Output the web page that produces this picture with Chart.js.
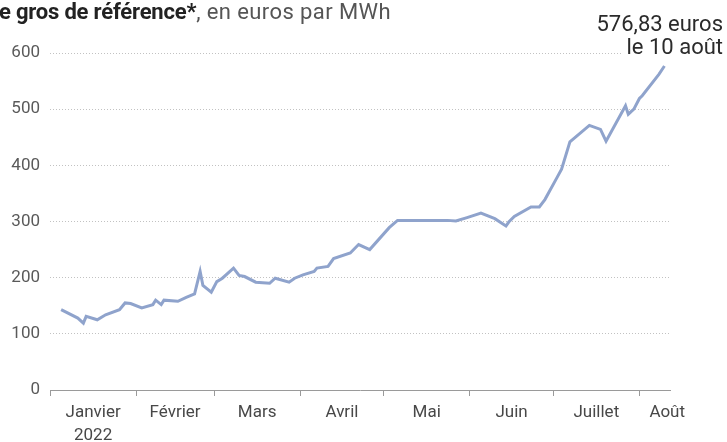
<!DOCTYPE html>
<html><head><meta charset="utf-8">
<script src="https://cdn.jsdelivr.net/npm/chart.js@4"></script>
<style>
html,body{margin:0;padding:0;background:#fff;}
#wrap{position:relative;width:727px;height:442px;overflow:hidden;}
#c{position:absolute;left:0;top:0;}
#title{position:absolute;left:-1px;top:1px;font-family:Roboto,sans-serif;line-height:22px;white-space:nowrap;}
#title b{color:#222;font-weight:700;font-size:22px;letter-spacing:-0.2px}
#title span{color:#555;font-weight:400;font-size:22px;letter-spacing:0.4px}
</style></head><body>
<div id="wrap"><canvas id="c" width="727" height="442" style="width:727px;height:442px"></canvas>
<div id="title"><b>e gros de référence*</b><span>, en euros par MWh</span></div></div>
<script>
const dates = ["2022-01-05","2022-01-11","2022-01-13","2022-01-14","2022-01-18","2022-01-21","2022-01-26","2022-01-28","2022-01-30",
"2022-02-03","2022-02-07","2022-02-08","2022-02-10","2022-02-11","2022-02-16","2022-02-19","2022-02-22","2022-02-24","2022-02-25","2022-02-28",
"2022-03-02","2022-03-04","2022-03-08","2022-03-10","2022-03-12","2022-03-16","2022-03-21","2022-03-23","2022-03-28","2022-03-30",
"2022-04-02","2022-04-06","2022-04-07","2022-04-11","2022-04-13","2022-04-19","2022-04-22","2022-04-26",
"2022-05-03","2022-05-06","2022-05-14","2022-05-24","2022-05-27","2022-05-31",
"2022-06-05","2022-06-10","2022-06-14","2022-06-15","2022-06-17","2022-06-23","2022-06-26","2022-06-28",
"2022-07-02","2022-07-04","2022-07-07","2022-07-14","2022-07-18","2022-07-20","2022-07-27","2022-07-28","2022-07-30",
"2022-08-01","2022-08-02","2022-08-08","2022-08-10"];
const prices = [143,128,119,131,125,134,143,155,154,
146,152,160,152,160,158,165,171,211,186,174,
193,199,217,204,202,192,190,199,192,199,
205,211,217,220,234,244,259,250,
289,302,302,302,301,307,
315,305,292,299,309,326,326,339,
375,393,442,471,464,443,506,491,500,
519,524,562,576.83];
const monthStarts = ["2022-01-01","2022-02-01","2022-03-01","2022-04-01","2022-05-01","2022-06-01","2022-07-01","2022-08-01","2022-09-01"];
const monthLabels = [["Janvier","2022"],"Février","Mars","Avril","Mai","Juin","Juillet","Août"];
const yTicks = [0,100,200,300,400,500,600];
const annotationLines = ["576,83 euros","le 10 août"];

const dayOf = s => { const [y,m,d] = s.split('-').map(Number); return (Date.UTC(y,m-1,d) - Date.UTC(2022,0,1)) / 86400000; };
const xs = dates.map(dayOf);
const lastDay = xs[xs.length-1];
const starts = monthStarts.map(dayOf);
const FONT = 'Roboto, sans-serif';

const annotationPlugin = {
  id: 'lastLabel',
  afterDatasetsDraw(chart) {
    const meta = chart.getDatasetMeta(0);
    const pt = meta.data[meta.data.length-1];
    const ctx = chart.ctx;
    ctx.save();
    ctx.font = '22px ' + FONT;
    ctx.textAlign = 'right';
    ctx.textBaseline = 'alphabetic';
    const xr = chart.width - 4;
    const b2 = pt.y - 12, b1 = b2 - 23;
    [b1, b2].forEach((b, i) => {
      const w = ctx.measureText(annotationLines[i]).width;
      ctx.fillStyle = '#fff';
      ctx.fillRect(xr - w - 5, b - 17, w + 8, 22);
    });
    ctx.fillStyle = '#2b2b2b';
    ctx.fillText(annotationLines[0], xr, b1);
    ctx.fillText(annotationLines[1], xr, b2);
    ctx.restore();
  }
};

new Chart(document.getElementById('c'), {
  type: 'line',
  data: {
    datasets: [{
      data: xs.map((x,i) => ({x, y: prices[i]})),
      borderColor: '#8fa3cc',
      borderWidth: 3,
      pointRadius: 0,
      tension: 0,
      fill: false
    }]
  },
  options: {
    responsive: false,
    animation: false,
    devicePixelRatio: 1,
    layout: { padding: { top: 53, right: 57, left: 0, bottom: 0 } },
    plugins: { legend: { display: false }, tooltip: { enabled: false } },
    scales: {
      x: {
        type: 'linear',
        min: 0,
        max: lastDay + 2,
        afterFit(s) { s.height = 52; },
        afterBuildTicks(s) {
          const t = [];
          for (let i = 0; i < monthLabels.length; i++) {
            t.push({ value: starts[i], start: true });
            t.push({ value: Math.min((starts[i] + starts[i+1]) / 2, lastDay + 1), lbl: monthLabels[i] });
          }
          s.ticks = t;
        },
        grid: {
          drawOnChartArea: false, drawTicks: true, tickLength: 6, lineWidth: 1,
          color: c => (c.tick && c.tick.start) ? '#9a9a9a' : 'rgba(0,0,0,0)'
        },
        border: { display: true, color: '#9a9a9a', width: 1 },
        ticks: {
          autoSkip: false, maxRotation: 0, minRotation: 0, padding: 5,
          color: '#484848', font: { family: FONT, size: 17, lineHeight: 1.35 },
          callback: (v, i, ticks) => ticks[i].lbl !== undefined ? ticks[i].lbl : ''
        }
      },
      y: {
        min: 0, max: 600,
        afterFit(s) { s.width = 50; },
        afterBuildTicks(s) { s.ticks = yTicks.map(v => ({ value: v })); },
        grid: {
          drawTicks: false, lineWidth: 1,
          color: c => (c.tick && c.tick.value === 0) ? 'rgba(0,0,0,0)' : '#c2c2c2'
        },
        border: { display: false, dash: [1, 2] },
        ticks: { padding: 10, color: '#5a5a5a', font: { family: FONT, size: 17 } }
      }
    }
  },
  plugins: [annotationPlugin]
});
</script>
</body></html>
